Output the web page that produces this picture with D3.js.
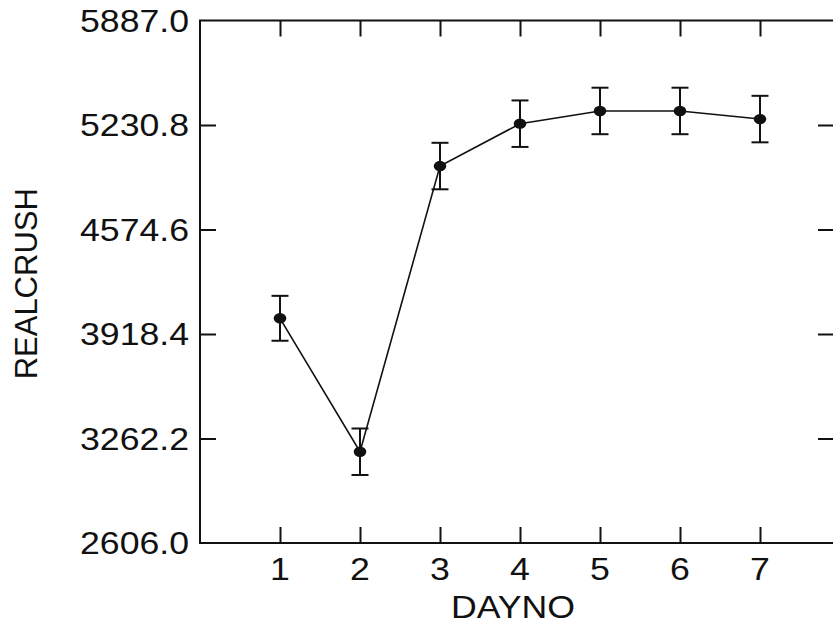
<!DOCTYPE html>
<html>
<head>
<meta charset="utf-8">
<script src="https://cdn.jsdelivr.net/npm/d3@7"></script>
<style>
    body { margin: 0; background: #fff; }
    text { font-family: "Liberation Sans", Arial, sans-serif; fill: #111; }
</style>
</head>
<body>
<svg id="chart" width="833" height="627"></svg>
<script>
// values
const days = [1, 2, 3, 4, 5, 6, 7];
const means = [4017, 3179, 4973, 5239, 5319, 5319, 5268];
const errors = [141, 146, 146, 146, 146, 146, 146];
const yTicks = [2606.0, 3262.2, 3918.4, 4574.6, 5230.8, 5887.0];

const svg = d3.select("#chart");

const plotLeft = 200, plotRight = 834, plotTop = 20.5, plotBottom = 543;
const fontSize = 31, stretch = 1.15; // the source text is a little wide

const x = d3.scaleLinear()
    .domain([0, (plotRight - plotLeft) / 80])
    .range([plotLeft, plotRight]);

const y = d3.scaleLinear()
    .domain([2606.0, 5887.0])
    .range([plotBottom, plotTop]);

// frame
svg.append("rect")
    .attr("x", plotLeft)
    .attr("y", plotTop)
    .attr("width", plotRight - plotLeft)
    .attr("height", plotBottom - plotTop)
    .attr("fill", "none")
    .attr("stroke", "#111")
    .attr("stroke-width", 2);

// inward ticks on all four sides
const tickLen = 16;
const xAxisBottom = d3.axisBottom(x).tickValues(days).tickSize(-tickLen).tickFormat("");
const xAxisTop = d3.axisTop(x).tickValues(days).tickSize(-tickLen).tickFormat("");
const yAxisLeft = d3.axisLeft(y).tickValues(yTicks.slice(1, -1)).tickSize(-tickLen).tickFormat("");
const yAxisRight = d3.axisRight(y).tickValues(yTicks.slice(1, -1)).tickSize(-tickLen).tickFormat("");

[[xAxisBottom, "translate(0," + plotBottom + ")"],
 [xAxisTop, "translate(0," + plotTop + ")"],
 [yAxisLeft, "translate(" + plotLeft + ",0)"],
 [yAxisRight, "translate(" + plotRight + ",0)"]].forEach(function (a) {
    const g = svg.append("g").attr("transform", a[1]).call(a[0]);
    g.select(".domain").remove();
    g.selectAll(".tick line").attr("stroke", "#111").attr("stroke-width", 2);
});

// tick labels
svg.append("g")
    .selectAll("text")
    .data(days)
    .enter()
    .append("text")
    .attr("transform", function (d) {
        return "translate(" + x(d) + ",580) scale(" + stretch + ",1)";
    })
    .attr("text-anchor", "middle")
    .attr("font-size", fontSize)
    .text(function (d) { return d; });

svg.append("g")
    .selectAll("text")
    .data(yTicks)
    .enter()
    .append("text")
    .attr("transform", function (d) {
        return "translate(189," + y(d) + ") scale(" + stretch + ",1)";
    })
    .attr("dy", "0.36em")
    .attr("text-anchor", "end")
    .attr("font-size", fontSize)
    .text(function (d) { return d.toFixed(1); });

// axis titles
svg.append("text")
    .attr("transform", "translate(513,618) scale(" + stretch + ",1)")
    .attr("text-anchor", "middle")
    .attr("font-size", fontSize)
    .text("DAYNO");

svg.append("text")
    .attr("transform", "translate(37," + ((plotTop + plotBottom) / 2 + 2) + ") rotate(-90)")
    .attr("text-anchor", "middle")
    .attr("font-size", fontSize)
    .text("REALCRUSH");

// connecting line
const line = d3.line()
    .x(function (d, i) { return x(days[i]); })
    .y(function (d) { return y(d); });

svg.append("path")
    .datum(means)
    .attr("d", line)
    .attr("fill", "none")
    .attr("stroke", "#111")
    .attr("stroke-width", 1.6);

// error bars
const bars = svg.append("g")
    .selectAll("g")
    .data(means)
    .enter()
    .append("g")
    .attr("stroke", "#111")
    .attr("stroke-width", 2);

bars.append("line")
    .attr("x1", function (d, i) { return x(days[i]); })
    .attr("x2", function (d, i) { return x(days[i]); })
    .attr("y1", function (d, i) { return y(d + errors[i]); })
    .attr("y2", function (d, i) { return y(d - errors[i]); });

[1, -1].forEach(function (s) {
    bars.append("line")
        .attr("x1", function (d, i) { return x(days[i]) - 8.5; })
        .attr("x2", function (d, i) { return x(days[i]) + 8.5; })
        .attr("y1", function (d, i) { return y(d + s * errors[i]); })
        .attr("y2", function (d, i) { return y(d + s * errors[i]); });
});

// markers
svg.append("g")
    .selectAll("ellipse")
    .data(means)
    .enter()
    .append("ellipse")
    .attr("cx", function (d, i) { return x(days[i]); })
    .attr("cy", function (d) { return y(d); })
    .attr("rx", 6.3)
    .attr("ry", 5.2)
    .attr("fill", "#111");
</script>
</body>
</html>
